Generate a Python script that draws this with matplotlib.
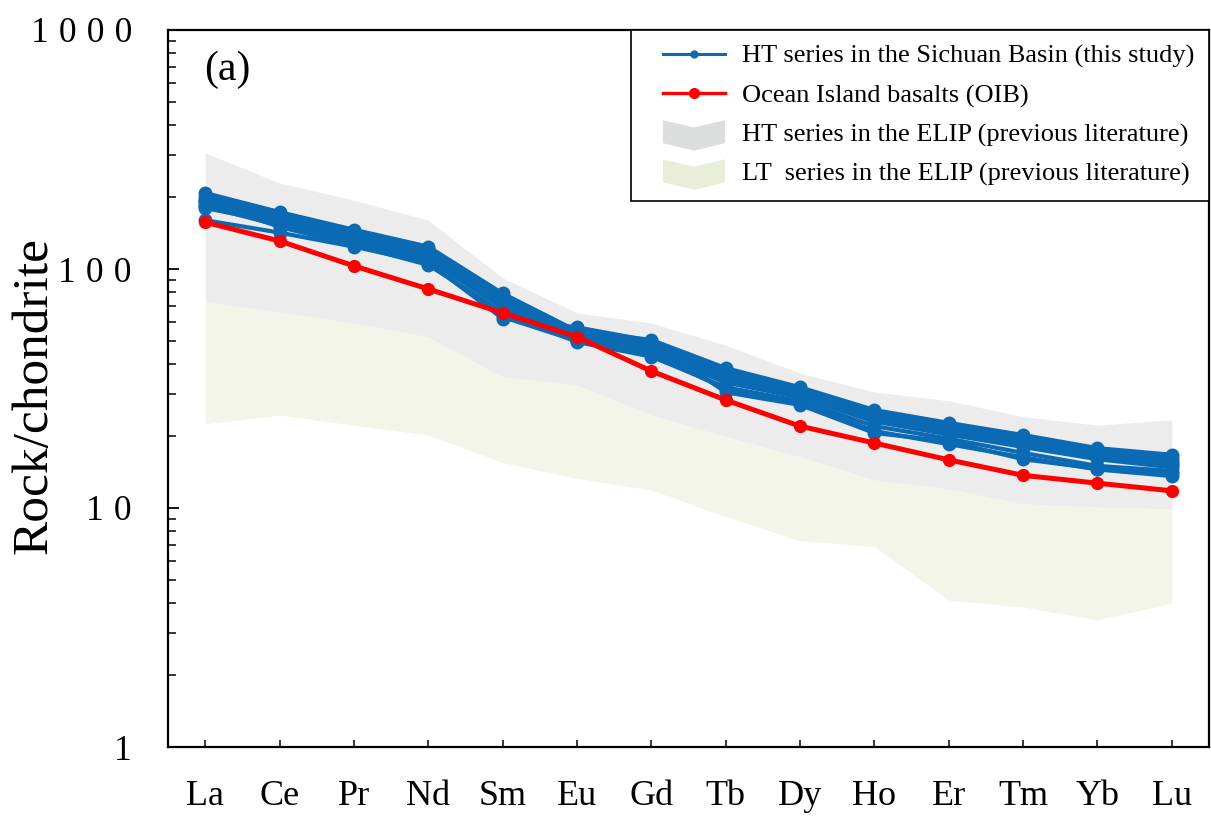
import numpy as np
import matplotlib.pyplot as plt
from matplotlib.lines import Line2D
from matplotlib.patches import Patch, Polygon
from matplotlib.legend_handler import HandlerPatch, HandlerLine2D

plt.rcParams['font.family'] = ['Liberation Serif', 'DejaVu Serif']

elements = ['La', 'Ce', 'Pr', 'Nd', 'Sm', 'Eu', 'Gd', 'Tb', 'Dy', 'Ho', 'Er', 'Tm', 'Yb', 'Lu']

# chondrite-normalised REE, HT basalts from the Sichuan Basin
samples = [
    [208, 173, 146, 124, 79, 55, 50.5, 38.5, 32, 25.7, 22.7, 20.2, 17.8, 16.7],
    [200, 170, 143, 121, 77, 54, 49.5, 37.5, 31.5, 25, 22, 19.6, 17.3, 16.2],
    [195, 166, 140, 118, 75, 53, 48.5, 36.5, 31, 24.5, 21.5, 19.2, 17, 15.8],
    [190, 163, 138, 115, 73, 52, 47.5, 35.5, 30.5, 24, 21, 18.8, 16.6, 15.4],
    [185, 160, 135, 112, 71, 51, 46.5, 34.5, 30, 23.5, 20.8, 18.5, 16.3, 15.1],
    [180, 156, 131, 109, 69, 50, 45, 33.5, 29, 23, 20.3, 18.0, 16, 14.8],
    [183, 152, 128, 107, 62, 57, 50, 30.5, 27, 20.6, 19, 16, 14.6, 14.0],
    [160, 142, 124, 106, 63, 50, 44, 31.5, 27.5, 21, 18.5, 16.3, 14.5, 13.6],
    [192, 150, 126, 104, 66, 49.5, 43, 32, 28, 22, 19.5, 17, 15, 14.3],
]

oib = [157, 131, 103, 82.5, 65.5, 52, 37.4, 28.3, 22, 18.7, 15.9, 13.7, 12.7, 11.8]

# ELIP fields from previous literature
ht_upper = [306, 229, 194, 160, 91.7, 65.5, 59.4, 48, 36.7, 30.6, 28.1, 24.1, 22.2, 23.4]
ht_lower = [73, 66, 59.4, 52, 35.4, 32.7, 24.5, 19.9, 16.4, 13.1, 12.0, 10.4, 10.1, 9.9]
lt_upper = ht_lower
lt_lower = [22.5, 24.5, 22.2, 20.2, 15.5, 13.3, 11.9, 9.2, 7.3, 6.9, 4.12, 3.85, 3.4, 4.0]

yticks = [1, 10, 100, 1000]

blue = '#0a6ab4'
gray_fill = '#ececec'
green_fill = '#f2f5e8'

x = np.arange(len(elements))

fig = plt.figure(figsize=(12.11, 8.23), dpi=100)
ax = fig.add_axes([168 / 1211, 1 - 747 / 823, 1041 / 1211, 717 / 823])

ax.fill_between(x, lt_lower, lt_upper, color=green_fill, lw=0, zorder=1)
ax.fill_between(x, ht_lower, ht_upper, color=gray_fill, lw=0, zorder=2)

for s in samples:
    ax.plot(x, s, color=blue, lw=3.0, marker='o', ms=9, zorder=3)

ax.plot(x, oib, color='red', lw=3.6, marker='o', ms=8.5, zorder=4)

ax.set_yscale('log')
ax.set_ylim(1, 1000)
ax.set_xlim(-0.5, 13.5)
ax.set_xticks(x)
ax.set_xticklabels(elements)
ax.set_yticks(yticks)
# widely tracked digits
ax.set_yticklabels(['\u2009\u200a'.join(str(t)) for t in yticks])

ax.tick_params(axis='x', direction='in', length=5, width=1.1, pad=24, labelsize=26)
ax.tick_params(axis='y', which='major', direction='in', length=8, width=1.3, pad=26, labelsize=25.5)
ax.tick_params(axis='y', which='minor', direction='in', length=5.5, width=1.1)
for sp in ax.spines.values():
    sp.set_linewidth(1.6)

ax.set_ylabel('Rock/chondrite', fontsize=37)
ax.yaxis.set_label_coords(-0.106, 0.49)

ax.text(0.035, 0.945, '(a)', transform=ax.transAxes, fontsize=30, va='center', ha='left')


def chevron(legend, orig_handle, xdescent, ydescent, width, height, fontsize):
    x0 = -xdescent
    x1 = x0 + width
    xm = (x0 + x1) / 2
    top = -ydescent + height * 1.15
    bot = -ydescent - height * 0.1
    d = height * 0.4
    pts = [(x0, top), (xm, top - d), (x1, top), (x1, bot), (xm, bot - d), (x0, bot)]
    return Polygon(pts, closed=True)


handles = [
    Line2D([], [], color=blue, lw=2.2, marker='o', ms=5),
    Line2D([], [], color='red', lw=2.4, marker='o', ms=7),
    Patch(facecolor='#dcdddd', edgecolor='none'),
    Patch(facecolor='#e8eed8', edgecolor='none'),
]
labels = [
    'HT series in the Sichuan Basin (this study)',
    'Ocean Island basalts (OIB)',
    'HT series in the ELIP (previous literature)',
    'LT  series in the ELIP (previous literature)',
]
leg = ax.legend(handles, labels, loc='upper right', bbox_to_anchor=(1, 1),
                borderaxespad=0, fontsize=19, frameon=True, fancybox=False,
                framealpha=1, edgecolor='black', handlelength=3.0,
                handletextpad=0.65, labelspacing=0.58, borderpad=0.55,
                handler_map={Patch: HandlerPatch(patch_func=chevron, xpad=0.65),
                             Line2D: HandlerLine2D(xpad=0.65)})
leg.get_frame().set_linewidth(1.2)
leg.set_zorder(10)

fig.savefig('out.png', dpi=100)
